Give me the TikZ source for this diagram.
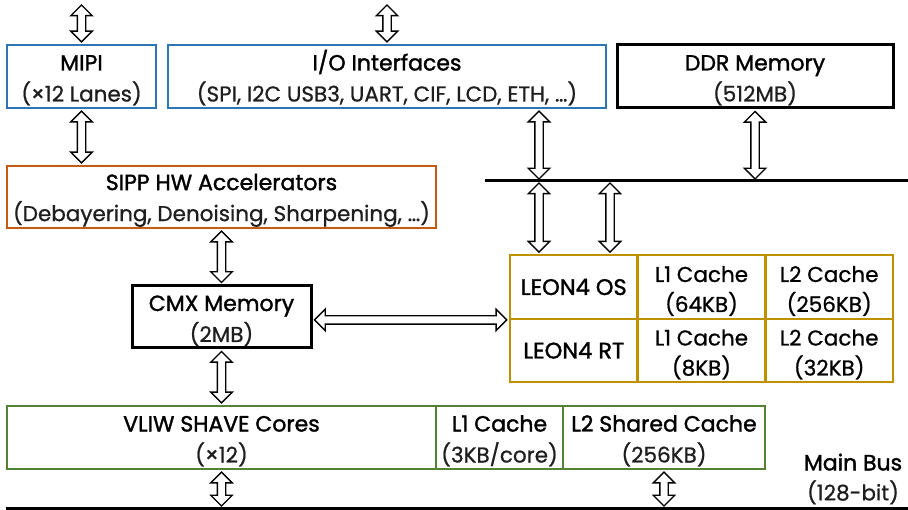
\documentclass[tikz,border=0pt]{standalone}
\usepackage{fontspec}
\setmainfont{Poppins}
\newfontfamily\titlefont{Poppins}[FakeBold=1.5]
\newfontfamily\subfont{Poppins}[FakeBold=0.8]
\usetikzlibrary{calc, shapes.arrows}
\definecolor{cblue}{HTML}{2E75B6}
\definecolor{corange}{HTML}{C55A11}
\definecolor{cgold}{HTML}{BF9000}
\definecolor{cgreen}{HTML}{548235}
\definecolor{csub}{HTML}{1E1E1E}

\newcommand{\subline}[1]{{\subfont\fontsize{21.5}{31}\selectfont\color{csub}#1}}
% hollow two-headed arrow between two points
\newcommand{\biarrow}[2]{%
  \path let \p1=(#1), \p2=(#2),
    \n1={veclen(\x2-\x1,\y2-\y1)}, \n2={atan2(\y2-\y1,\x2-\x1)} in
    node[busarrow, minimum height=\n1-4pt, rotate=\n2] at ($(\p1)!0.5!(\p2)$) {};}

\tikzset{
  box/.style={draw=#1, line width=2.4pt, align=center, inner sep=0pt,
    font=\titlefont\fontsize{22}{31}\selectfont, text height=54pt},
  box/.default=black,
  memory/.style={box, line width=3pt},
  cell/.style={box=cgold, font=\subfont\fontsize{21.5}{30}\selectfont,
    minimum width=127.7pt, minimum height=63.5pt},
  leon/.style={cell, font=\titlefont\fontsize{22.5}{30}\selectfont,
    text height={}},
  bus/.style={line width=3pt},
  busarrow/.style={double arrow, draw, fill=white, line width=1.4pt,
    inner xsep=0pt, inner ysep=3.5pt, double arrow head extend=6.5pt,
    double arrow tip angle=90}
}

\begin{document}
\begin{tikzpicture}[x=1pt, y=-1pt]
  \useasboundingbox (0,0) rectangle (908,510);

  % top row
  \node[box=cblue, minimum width=149pt, minimum height=63pt] (mipi) at (81.5,76.5)
    {MIPI\\\subline{(×12 Lanes)}};
  \node[box=cblue, minimum width=438pt, minimum height=63pt] (io) at (387,76.5)
    {I/O Interfaces\\\subline{(SPI, I2C USB3, UART, CIF, LCD, ETH, …)}};
  \node[memory, minimum width=276pt, minimum height=63pt] (ddr) at (755,76.5)
    {DDR Memory\\\subline{(512MB)}};

  \node[box=corange, minimum width=429pt, minimum height=62pt] (sipp) at (221.5,197)
    {SIPP HW Accelerators\\\subline{(Debayering, Denoising, Sharpening, …)}};
  \node[memory, minimum width=179pt, minimum height=62pt] (cmx) at (221.5,317)
    {CMX Memory\\\subline{(2MB)}};

  % LEON4 processors
  \node[leon] (leonos) at (573.8,287) {LEON4 OS};
  \node[cell] (l1os) at (701.5,287) {L1 Cache\\(64KB)};
  \node[cell] (l2os) at (829.2,287) {L2 Cache\\(256KB)};
  \node[leon] (leonrt) at (573.8,350.5) {LEON4 RT};
  \node[cell] (l1rt) at (701.5,350.5) {L1 Cache\\(8KB)};
  \node[cell] (l2rt) at (829.2,350.5) {L2 Cache\\(32KB)};

  % SHAVE cores
  \node[box=cgreen, minimum width=429pt, minimum height=63pt] (shave) at (221.5,437.5)
    {VLIW SHAVE Cores\\\subline{(×12)}};
  \node[box=cgreen, minimum width=127pt, minimum height=63pt] (l1sh) at (499.5,437.5)
    {L1 Cache\\\subline{(3KB/core)}};
  \node[box=cgreen, minimum width=202pt, minimum height=63pt] (l2sh) at (664,437.5)
    {L2 Shared Cache\\\subline{(256KB)}};

  \node[align=center, inner sep=0pt, font=\titlefont\fontsize{22}{30}\selectfont] (mainbus) at (853,479)
    {Main Bus\\\subline{(128-bit)}};

  % buses
  \coordinate (upw) at (485,181);
  \coordinate (upe) at (908,181);
  \coordinate (loww) at (6,508);
  \coordinate (lowe) at (908,508);
  \draw[bus] (upw) -- (upe);
  \draw[bus] (loww) -- (lowe);

  \coordinate (mipitop) at (81.5,3);
  \coordinate (iotop) at (387,3);
  \coordinate (tapio) at (539,181);
  \coordinate (tapos) at (610,181);

  \biarrow{mipitop}{mipi.north}
  \biarrow{iotop}{io.north}
  \biarrow{mipi.south}{mipi.south |- sipp.north}
  \biarrow{io.south -| tapio}{tapio}
  \biarrow{ddr.south}{ddr.south |- upw}
  \biarrow{tapio}{tapio |- leonos.north}
  \biarrow{tapos}{tapos |- leonos.north}
  \biarrow{sipp.south}{cmx.north}
  \biarrow{cmx.east |- leonos.south west}{leonos.south west}
  \biarrow{cmx.south}{shave.north}
  \biarrow{shave.south}{shave.south |- lowe}
  \biarrow{l2sh.south}{l2sh.south |- lowe}
\end{tikzpicture}
\end{document}
